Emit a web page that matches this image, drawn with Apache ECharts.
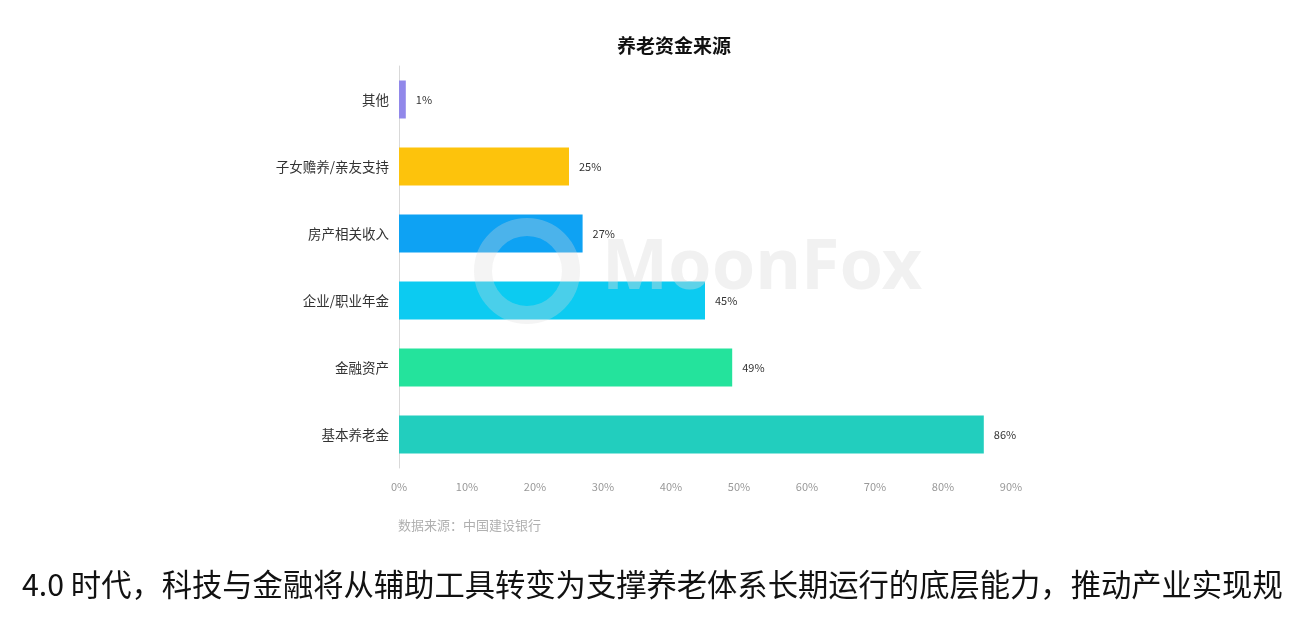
<!DOCTYPE html>
<html>
<head>
<meta charset="utf-8">
<script src="https://cdn.jsdelivr.net/npm/echarts@6/dist/echarts.min.js"></script>
<style>
  html, body { margin: 0; padding: 0; background: #fff; }
  #chart { width: 1300px; height: 641px; }
</style>
</head>
<body>
<div id="chart"></div>
<script>
const categories = ['其他', '子女赡养/亲友支持', '房产相关收入', '企业/职业年金', '金融资产', '基本养老金']
const values = [1, 25, 27, 45, 49, 86]
const barColors = ['#9188ea', '#fdc30c', '#0ea2f3', '#0ccbf1', '#24e39c', '#22cebe']
const xTicks = [0, 10, 20, 30, 40, 50, 60, 70, 80, 90]

const font = '"Noto Sans CJK SC", "Noto Sans", sans-serif'
const myChart = echarts.init(document.getElementById('chart'))

myChart.setOption({
  backgroundColor: '#fff',
  animation: false,
  textStyle: { fontFamily: font },
  title: {
    text: '养老资金来源',
    left: 612,
    top: 31,
    textStyle: { fontSize: 19, fontWeight: 'bold', color: '#111', fontFamily: font }
  },
  grid: { left: 399, top: 66, width: 612, height: 402, containLabel: false },
  xAxis: {
    type: 'value',
    min: xTicks[0],
    max: xTicks[xTicks.length - 1],
    interval: 10,
    axisLine: { show: false },
    axisTick: { show: false },
    splitLine: { show: false },
    axisLabel: {
      formatter: '{value}%',
      color: '#999',
      fontSize: 11,
      margin: 13
    }
  },
  yAxis: {
    type: 'category',
    data: categories,
    inverse: true,
    axisLine: { show: true, lineStyle: { color: '#d9d9d9', width: 1 } },
    axisTick: { show: false },
    axisLabel: { color: '#333', fontSize: 13.5, margin: 10 }
  },
  series: [
    {
      name: '养老资金来源',
      type: 'bar',
      barWidth: 38,
      data: values.map((v, i) => ({ value: v, itemStyle: { color: barColors[i] } })),
      label: {
        show: true,
        position: 'right',
        distance: 10,
        formatter: '{c}%',
        color: '#333',
        fontSize: 11
      },
      z: 3
    }
  ],
  graphic: [
    {
      type: 'circle',
      shape: { cx: 527, cy: 271, r: 44 },
      style: { fill: 'none', stroke: 'rgba(220,220,220,0.3)', lineWidth: 18 },
      z: 10
    },
    {
      type: 'text',
      left: 602,
      top: 234,
      style: {
        text: 'MoonFox',
        font: 'bold 70px "Noto Sans", sans-serif',
        fill: 'rgba(220,220,220,0.4)'
      },
      z: 10
    },
    {
      type: 'text',
      left: 398,
      top: 519,
      style: {
        text: '数据来源：中国建设银行',
        font: '13px "Noto Sans CJK SC", sans-serif',
        fill: '#b0b0b0'
      }
    },
    {
      type: 'text',
      left: 22,
      top: 569,
      style: {
        text: '4.0 时代，科技与金融将从辅助工具转变为支撑养老体系长期运行的底层能力，推动产业实现规',
        font: '30.3px "Noto Sans CJK SC", sans-serif',
        fill: '#111'
      }
    }
  ]
})
</script>
</body>
</html>
